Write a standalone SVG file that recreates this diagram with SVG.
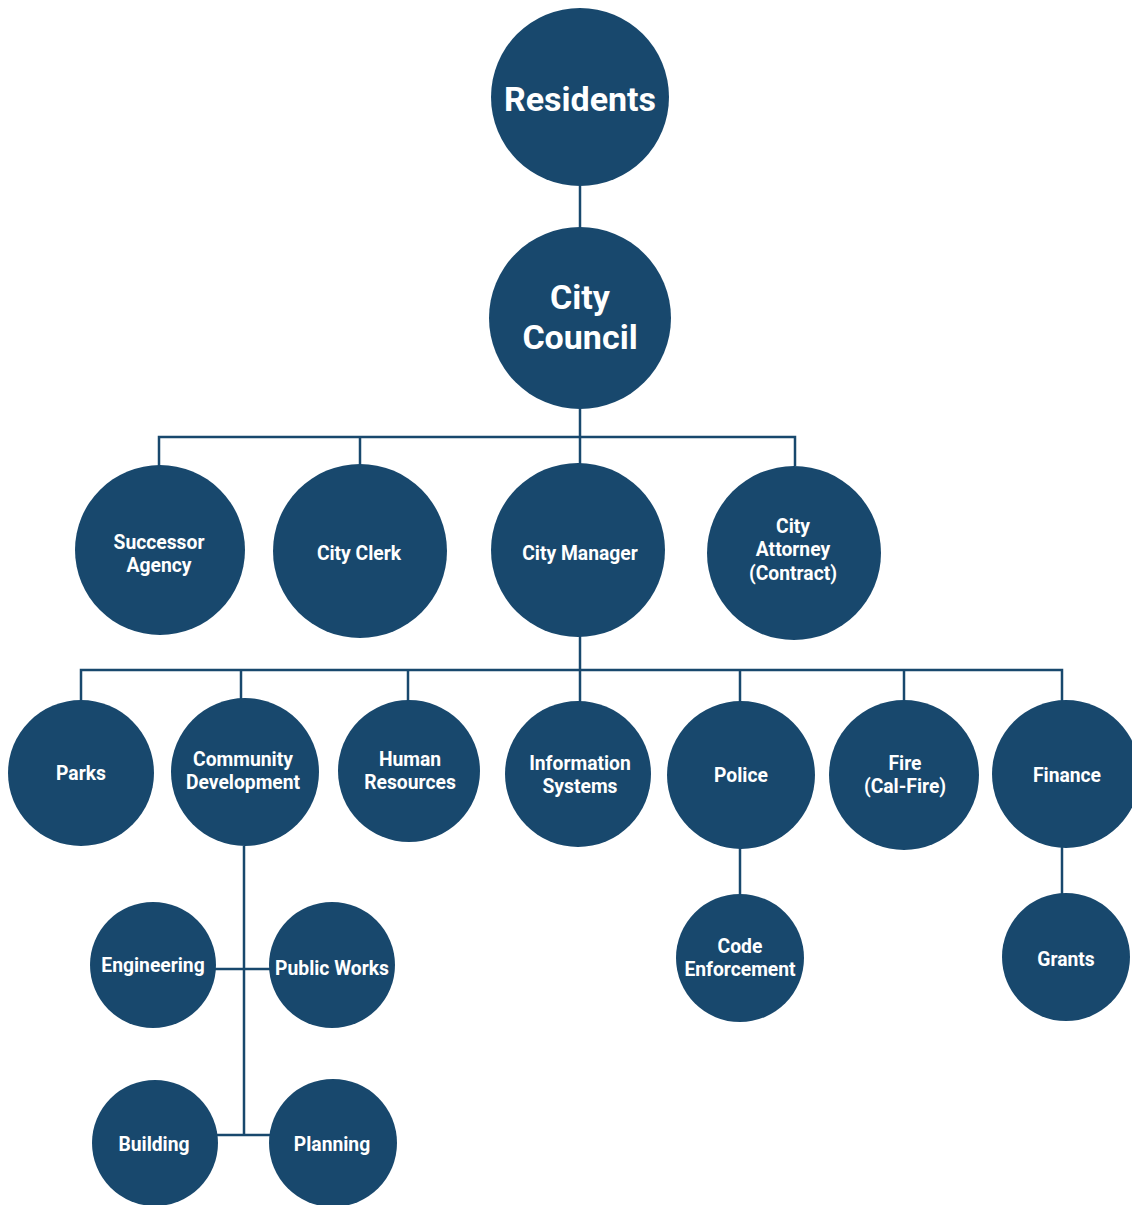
<svg xmlns="http://www.w3.org/2000/svg" width="1132" height="1205" viewBox="0 0 1132 1205">
<style>
.n{fill:#18486d}
.t{fill:#ffffff;font-family:Roboto,"Liberation Sans",sans-serif;font-weight:bold;font-size:19.3px;text-anchor:middle}
.big{font-size:34px}
.c{stroke:#18486d;stroke-width:2.5;fill:none}
</style>
<rect width="1132" height="1205" fill="#ffffff"/>
<g id="connectors" class="c">
<line x1="580" y1="186" x2="580" y2="229"/>
<line x1="580" y1="408" x2="580" y2="464"/>
<polyline points="159,466 159,437 795,437 795,466"/>
<line x1="360" y1="437" x2="360" y2="465"/>
<line x1="580" y1="636" x2="580" y2="702"/>
<polyline points="81,701 81,670 1062,670 1062,702"/>
<line x1="241" y1="670" x2="241" y2="699"/>
<line x1="408" y1="670" x2="408" y2="701"/>
<line x1="740" y1="670" x2="740" y2="702"/>
<line x1="904" y1="670" x2="904" y2="701"/>
<line x1="740" y1="848" x2="740" y2="895"/>
<line x1="1062" y1="846" x2="1062" y2="895"/>
<line x1="244" y1="846" x2="244" y2="1135"/>
<line x1="214" y1="969" x2="271" y2="969"/>
<line x1="217" y1="1135" x2="271" y2="1135"/>
</g>
<g id="residents"><circle class="n" cx="580" cy="97" r="89"/><text class="t big" x="580" y="111">Residents</text></g>
<g id="city-council"><circle class="n" cx="580" cy="318" r="91"/><text class="t big" x="580" y="309">City</text><text class="t big" x="580" y="349">Council</text></g>
<g id="successor-agency"><circle class="n" cx="160" cy="550" r="85"/><text class="t" x="159" y="549">Successor</text><text class="t" x="159" y="572">Agency</text></g>
<g id="city-clerk"><circle class="n" cx="360" cy="551" r="87"/><text class="t" x="359" y="560">City Clerk</text></g>
<g id="city-manager"><circle class="n" cx="578" cy="550" r="87"/><text class="t" x="580" y="560">City Manager</text></g>
<g id="city-attorney"><circle class="n" cx="794" cy="553" r="87"/><text class="t" x="793" y="533">City</text><text class="t" x="793" y="556">Attorney</text><text class="t" x="793" y="580">(Contract)</text></g>
<g id="parks"><circle class="n" cx="81" cy="773" r="73"/><text class="t" x="81" y="780">Parks</text></g>
<g id="community-development"><circle class="n" cx="245" cy="772" r="74"/><text class="t" x="243" y="766">Community</text><text class="t" x="243" y="789">Development</text></g>
<g id="human-resources"><circle class="n" cx="409" cy="771" r="71"/><text class="t" x="410" y="766">Human</text><text class="t" x="410" y="789">Resources</text></g>
<g id="information-systems"><circle class="n" cx="578" cy="774" r="73"/><text class="t" x="580" y="770">Information</text><text class="t" x="580" y="793">Systems</text></g>
<g id="police"><circle class="n" cx="741" cy="775" r="74"/><text class="t" x="741" y="782">Police</text></g>
<g id="fire"><circle class="n" cx="904" cy="775" r="75"/><text class="t" x="905" y="770">Fire</text><text class="t" x="905" y="793">(Cal-Fire)</text></g>
<g id="finance"><circle class="n" cx="1066" cy="774" r="74"/><text class="t" x="1067" y="782">Finance</text></g>
<g id="code-enforcement"><circle class="n" cx="740" cy="958" r="64"/><text class="t" x="740" y="953">Code</text><text class="t" x="740" y="976">Enforcement</text></g>
<g id="grants"><circle class="n" cx="1066" cy="957" r="64"/><text class="t" x="1066" y="966">Grants</text></g>
<g id="engineering"><circle class="n" cx="153" cy="965" r="63"/><text class="t" x="153" y="972">Engineering</text></g>
<g id="public-works"><circle class="n" cx="332" cy="965" r="63"/><text class="t" x="332" y="975">Public Works</text></g>
<g id="building"><circle class="n" cx="155" cy="1143" r="63"/><text class="t" x="154" y="1151">Building</text></g>
<g id="planning"><circle class="n" cx="333" cy="1143" r="64"/><text class="t" x="332" y="1151">Planning</text></g>
</svg>
